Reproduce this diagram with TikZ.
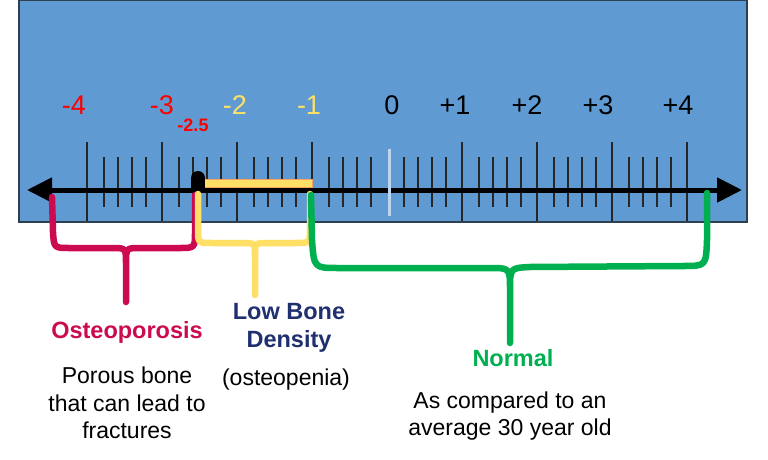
\documentclass[tikz,border=0pt]{standalone}
\usepackage{fontspec}
\setmainfont{Liberation Sans}
\usetikzlibrary{arrows.meta}
\definecolor{panel}{HTML}{5F9BD2}
\definecolor{panelline}{HTML}{2E3F52}
\definecolor{zeroline}{HTML}{BCD6F2}
\definecolor{lowyellow}{HTML}{FFE066}
\definecolor{barline}{HTML}{F4A460}
\definecolor{osteo}{HTML}{CC0A50}
\definecolor{normal}{HTML}{00B050}
\definecolor{navy}{HTML}{1F2F6F}

\begin{document}
\begin{tikzpicture}[x=1pt,y=-1pt,
    tick/.style={line width=1.4pt,black!85},
    num/.style={font=\fontsize{27}{32}\selectfont},
    head/.style={font=\fontsize{23.5}{28.5}\selectfont\bfseries,align=center},
    body/.style={font=\fontsize{23}{27.5}\selectfont,align=center},
    brace/.style={line width=6.5pt,line cap=round,line join=round}]
        \useasboundingbox (0,0) rectangle (768,460);
        \fill[panel,draw=panelline,line width=1.2pt] (19,0.6) rectangle (747,222);

        % scale
        \foreach \v in {-4,...,3}
            \foreach \m in {1,...,4}
                \draw[tick] (390+75*\v+14*\m,157) -- ++(0,50);
        \foreach \v in {-4,-3,-2,-1,1,2,3,4}
            \draw[tick] (387+75*\v,142) -- ++(0,79);

        \coordinate (L) at (27,190);
        \coordinate (R) at (742,190);
        \draw[line width=5pt,{Triangle[length=25pt,width=24pt]}-{Triangle[length=25pt,width=24pt]}] (L) -- (R);
        \draw[zeroline,line width=3pt] (389,149) -- (389,216);

        \draw[fill=lowyellow,draw=barline,line width=1pt] (198,179) rectangle (312,187);
        \fill (198,178) circle[radius=7];
        \fill (191,178) rectangle (205,193);

        \node[num,red] (m4) at (74,105) {-4};
        \node[num,red] (m3) at (162,105) {-3};
        \node[num,lowyellow] (m2) at (235,105) {-2};
        \node[num,lowyellow] (m1) at (309,105) {-1};
        \node[num] (z) at (392,105) {0};
        \node[num] (p1) at (455,105) {+1};
        \node[num] (p2) at (527,105) {+2};
        \node[num] (p3) at (598,105) {+3};
        \node[num] (p4) at (678,105) {+4};
        \node[red,font=\fontsize{18}{20}\selectfont\bfseries] (cut) at (193,125) {-2.5};

        % braces
        \draw[brace,osteo] (52,197) -- (53,232) .. controls (54,248) .. (70,248) -- (112,248)
            .. controls (126,248) .. (126,264) -- (126,302) -- (126,264)
            .. controls (126,248) .. (140,248) -- (179,248) .. controls (195,248) .. (195,232) -- (195,195);
        \draw[brace,lowyellow] (198,194) -- (198,229) .. controls (198,243) .. (212,243) -- (243,243)
            .. controls (255,243) .. (255,257) -- (255,295) -- (255,257)
            .. controls (255,243) .. (267,243) -- (296,243) .. controls (310,243) .. (310,229) -- (310,194);
        \draw[brace,normal] (311,195) -- (312,240) .. controls (314,268) .. (338,268) -- (490,268)
            .. controls (510,268) .. (510,290) -- (510,343) -- (510,290)
            .. controls (510,268) .. (530,267) -- (683,266) .. controls (706,266) .. (707,240) -- (707,193);

        \node[head,osteo] (Osteo) at (127,332) {Osteoporosis};
        \node[body] (OsteoText) at (127,403) {Porous bone\\that can lead to\\fractures};
        \node[head,navy] (LowBone) at (289,328) {Low Bone\\Density};
        \node[body] (LowText) at (286,380) {(osteopenia)};
        \node[head,normal] (Normal) at (513,358) {Normal};
        \node[body] (NormalText) at (510,416) {As compared to an\\average 30 year old};
    \end{tikzpicture}
\end{document}
